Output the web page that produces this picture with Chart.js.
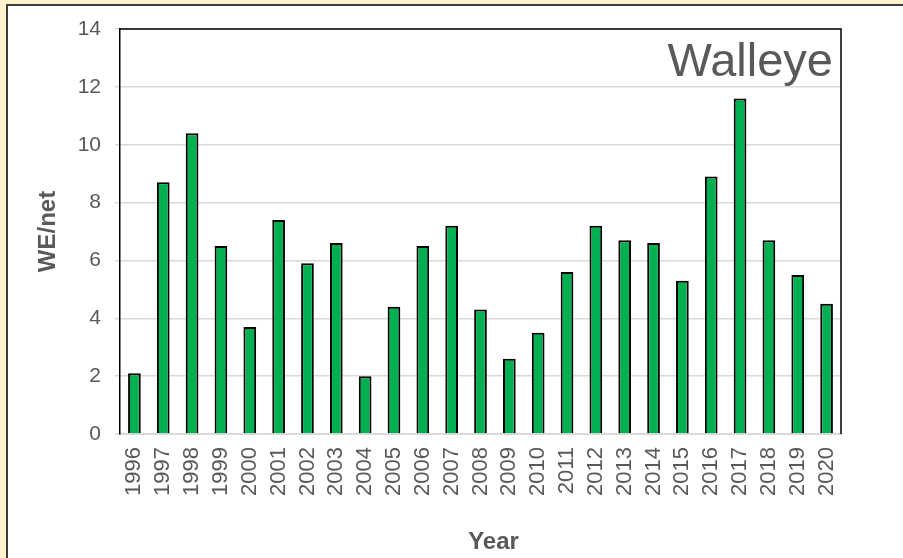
<!DOCTYPE html>
<html>
<head>
<meta charset="utf-8">
<script src="https://cdn.jsdelivr.net/npm/chart.js@4"></script>
<style>
html,body{margin:0;padding:0;background:#FFF2CC;}
#wrap{position:absolute;left:0;top:0;width:903px;height:558px;}
</style>
</head>
<body>
<div id="wrap"><canvas id="c" width="903" height="558"></canvas></div>
<script>
const years = ['1996','1997','1998','1999','2000','2001','2002','2003','2004','2005','2006','2007','2008','2009','2010','2011','2012','2013','2014','2015','2016','2017','2018','2019','2020'];
const wePerNet = [2.1,8.7,10.4,6.5,3.7,7.4,5.9,6.6,2.0,4.4,6.5,7.2,4.3,2.6,3.5,5.6,7.2,6.7,6.6,5.3,8.9,11.6,6.7,5.5,4.5];
const yTicks = [0,2,4,6,8,10,12,14];
const speciesLabel = 'Walleye';
const yTitle = 'WE/net';
const xTitle = 'Year';

const textColor = '#595959';
const fontFam = "'Liberation Sans', Arial, sans-serif";

const framePlugin = {
  id: 'frame',
  beforeDraw(chart) {
    const ctx = chart.ctx;
    ctx.save();
    ctx.fillStyle = '#FFF2CC';
    ctx.fillRect(0, 0, chart.width, chart.height);
    ctx.fillStyle = '#FFFFFF';
    ctx.fillRect(7, 5, chart.width, chart.height);
    ctx.strokeStyle = '#3A3A3A';
    ctx.lineWidth = 2;
    ctx.beginPath();
    ctx.moveTo(7, chart.height + 5);
    ctx.lineTo(7, 5);
    ctx.lineTo(chart.width + 5, 5);
    ctx.stroke();
    ctx.restore();
  },
  afterDraw(chart) {
    const ctx = chart.ctx;
    const a = chart.chartArea;
    ctx.save();
    ctx.strokeStyle = '#000000';
    ctx.lineWidth = 1.5;
    ctx.beginPath();
    ctx.moveTo(a.left, a.top);
    ctx.lineTo(a.right, a.top);
    ctx.lineTo(a.right, a.bottom);
    ctx.stroke();
    ctx.fillStyle = textColor;
    ctx.font = "47px " + fontFam;
    ctx.textAlign = 'right';
    ctx.textBaseline = 'alphabetic';
    ctx.fillText(speciesLabel, a.right - 8, a.top + 47);
    ctx.font = "bold 24px " + fontFam;
    ctx.textAlign = 'center';
    ctx.textBaseline = 'middle';
    ctx.fillText(xTitle, (a.left + a.right) / 2 + 13, a.bottom + 108);
    ctx.restore();
  }
};

new Chart(document.getElementById('c'), {
  type: 'bar',
  data: {
    labels: years,
    datasets: [{
      data: wePerNet,
      backgroundColor: '#00B050',
      borderColor: '#000000',
      borderWidth: 2,
      barPercentage: 0.44,
      categoryPercentage: 1.0
    }]
  },
  options: {
    responsive: false,
    animation: false,
    devicePixelRatio: 1,
    layout: { padding: { left: 0, top: 29, right: 62, bottom: 0 } },
    plugins: { legend: { display: false }, tooltip: { enabled: false } },
    scales: {
      x: {
        afterFit(s) { s.height = 124; },
        grid: { display: false, drawTicks: false },
        border: { display: true, color: '#D9D9D9', width: 2 },
        ticks: {
          color: textColor,
          font: { family: fontFam, size: 22 },
          minRotation: 90, maxRotation: 90,
          padding: 13,
          autoSkip: false
        },
        title: { display: false }
      },
      y: {
        min: 0, max: 14,
        afterFit(s) { s.width = 120; },
        afterBuildTicks(s) { s.ticks = yTicks.map(v => ({ value: v })); },
        grid: { color: '#D9D9D9', lineWidth: 1.5, tickLength: 5, drawTicks: true },
        border: { display: true, color: '#000000', width: 1.5 },
        ticks: {
          color: textColor,
          font: { family: fontFam, size: 21 },
          padding: 14
        },
        title: {
          display: true, text: yTitle, color: textColor,
          font: { family: fontFam, size: 24, weight: 'bold' },
          padding: { top: 34, bottom: 0 }
        }
      }
    }
  },
  plugins: [framePlugin]
});
</script>
</body>
</html>
